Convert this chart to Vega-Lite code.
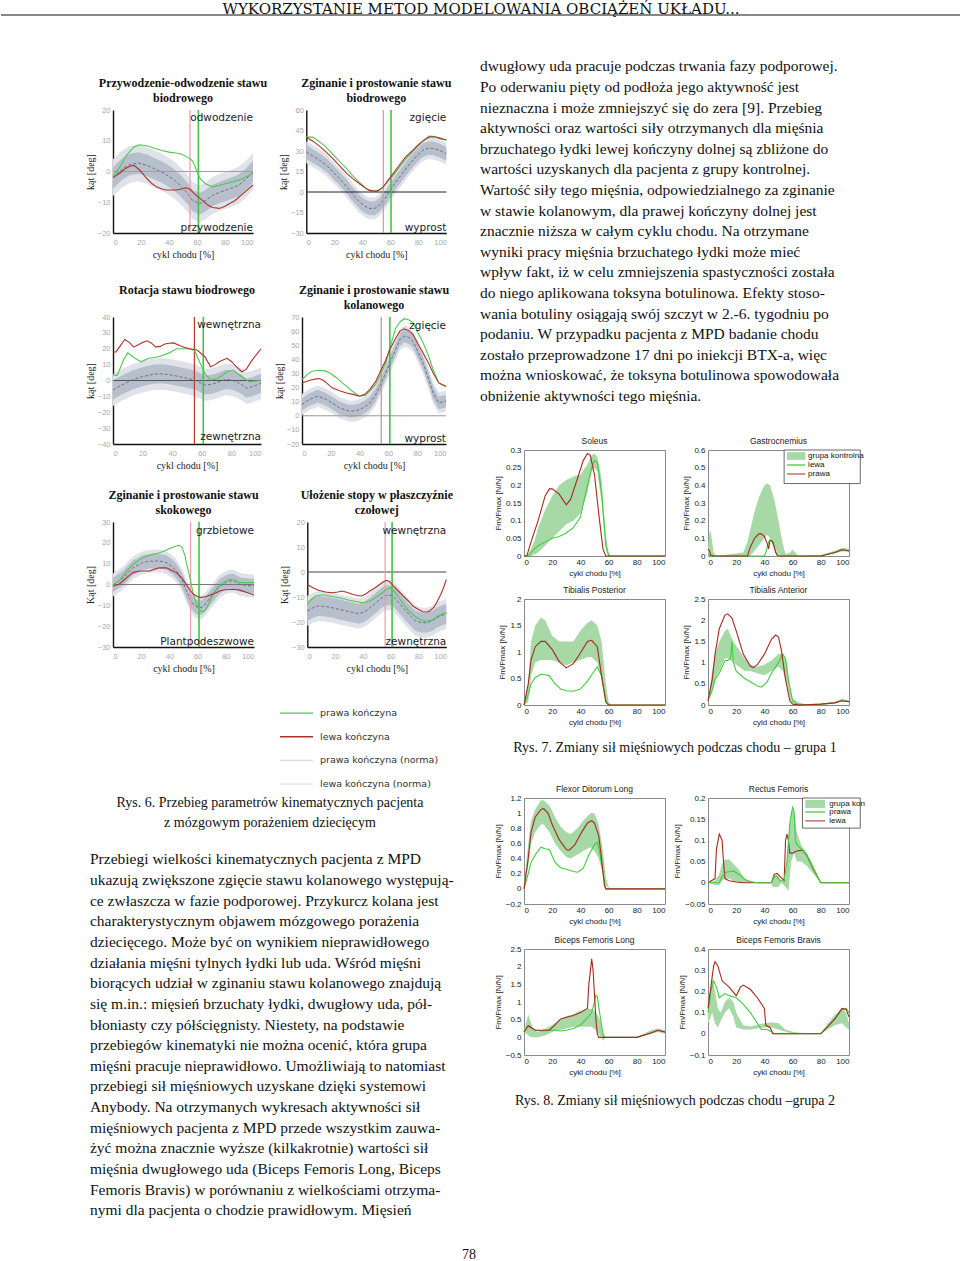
{
"$schema": "https://vega.github.io/schema/vega-lite/v6.json",
"padding": {"top": 1, "left": 0, "right": 0, "bottom": 0},
"background": "white",
"spacing": 0,
"config": {
  "view": {"stroke": null},
  "font": "Liberation Serif",
  "title": {"font": "Liberation Serif", "fontSize": 12, "fontWeight": "bold", "color": "#111", "lineHeight": 15, "offset": 1, "anchor": "middle"},
  "axis": {"grid": false, "ticks": false, "labelOverlap": false, "tickCount": 20, "labelFont": "Liberation Sans", "labelFontSize": 7.5, "labelColor": "#a8a8a8", "domainColor": "#111", "domainWidth": 1.4, "titleFont": "Liberation Serif", "titleFontSize": 10, "titleFontWeight": "normal", "titleColor": "#222", "labelPadding": 3, "titlePadding": 2},
  "axisX": {"labelPadding": 5, "titlePadding": 4}
},
"datasets": {
  "k1n": [{"x":0,"m":-2,"lo":-5.5,"hi":1.5,"lo2":-8,"hi2":4},{"x":7,"m":1,"lo":-2.5,"hi":4.5,"lo2":-5,"hi2":7},{"x":12,"m":2.3,"lo":-1.2,"hi":5.8,"lo2":-3.7,"hi2":8.3},{"x":18,"m":2.8,"lo":-0.7,"hi":6.3,"lo2":-3.2,"hi2":8.8},{"x":24,"m":2,"lo":-1.5,"hi":5.5,"lo2":-4,"hi2":8},{"x":29,"m":1,"lo":-2.5,"hi":4.5,"lo2":-5,"hi2":7},{"x":34,"m":0,"lo":-3.5,"hi":3.5,"lo2":-6,"hi2":6},{"x":38,"m":-1,"lo":-4.5,"hi":2.5,"lo2":-7,"hi2":5},{"x":43,"m":-2.5,"lo":-6,"hi":1,"lo2":-8.5,"hi2":3.5},{"x":48,"m":-4.5,"lo":-8,"hi":-1,"lo2":-10.5,"hi2":1.5},{"x":53,"m":-7,"lo":-10.5,"hi":-3.5,"lo2":-13,"hi2":-1},{"x":57,"m":-9.5,"lo":-13,"hi":-6,"lo2":-15.5,"hi2":-3.5},{"x":62,"m":-10.5,"lo":-14,"hi":-7,"lo2":-16.5,"hi2":-4.5},{"x":66,"m":-9.5,"lo":-13,"hi":-6,"lo2":-15.5,"hi2":-3.5},{"x":71,"m":-7.8,"lo":-11.3,"hi":-4.3,"lo2":-13.8,"hi2":-1.8},{"x":76,"m":-6.8,"lo":-10.3,"hi":-3.3,"lo2":-12.8,"hi2":-0.8},{"x":81,"m":-6,"lo":-9.5,"hi":-2.5,"lo2":-12,"hi2":0},{"x":86,"m":-5.2,"lo":-8.7,"hi":-1.7,"lo2":-11.2,"hi2":0.8},{"x":90,"m":-4.4,"lo":-7.9,"hi":-0.9,"lo2":-10.4,"hi2":1.6},{"x":95,"m":-2.5,"lo":-6,"hi":1,"lo2":-8.5,"hi2":3.5},{"x":100,"m":0,"lo":-3.5,"hi":3.5,"lo2":-6,"hi2":6}],
  "k1g": [{"x":0,"y":-1.7},{"x":5,"y":1.5},{"x":10,"y":5.5},{"x":15,"y":8},{"x":19,"y":8.7},{"x":25,"y":8.3},{"x":30,"y":7.5},{"x":35,"y":6.8},{"x":40,"y":6.3},{"x":45,"y":6},{"x":48,"y":5.8},{"x":52,"y":5},{"x":55,"y":4.2},{"x":57,"y":3.3},{"x":60,"y":0},{"x":62,"y":-2.2},{"x":66,"y":-4},{"x":71,"y":-5},{"x":76,"y":-4.5},{"x":81,"y":-3.9},{"x":86,"y":-3.3},{"x":90,"y":-2.8},{"x":95,"y":-1.8},{"x":100,"y":-0.5}],
  "k1r": [{"x":0,"y":-2},{"x":5,"y":-0.5},{"x":9,"y":1},{"x":12,"y":1.7},{"x":15,"y":2},{"x":19,"y":0.5},{"x":24,"y":-2.2},{"x":28,"y":-4},{"x":31,"y":-5},{"x":35,"y":-5.7},{"x":38,"y":-6},{"x":45,"y":-6},{"x":50,"y":-5.6},{"x":52,"y":-5.3},{"x":55,"y":-5.8},{"x":57,"y":-6.7},{"x":60,"y":-8},{"x":64,"y":-9.4},{"x":68,"y":-11},{"x":71,"y":-11.7},{"x":76,"y":-12},{"x":80,"y":-11.3},{"x":83,"y":-10.5},{"x":87,"y":-9.5},{"x":90,"y":-8.3},{"x":95,"y":-6.4},{"x":100,"y":-4.4}],
  "k2n": [{"x":0,"m":29.3,"lo":24.3,"hi":34.3,"lo2":21.3,"hi2":37.3},{"x":5,"m":26,"lo":21,"hi":31,"lo2":18,"hi2":34},{"x":10,"m":23,"lo":18,"hi":28,"lo2":15,"hi2":31},{"x":15,"m":19,"lo":14,"hi":24,"lo2":11,"hi2":27},{"x":19,"m":14.7,"lo":9.7,"hi":19.7,"lo2":6.7,"hi2":22.7},{"x":24,"m":9.5,"lo":4.5,"hi":14.5,"lo2":1.5,"hi2":17.5},{"x":29,"m":3.7,"lo":-1.3,"hi":8.7,"lo2":-4.3,"hi2":11.7},{"x":33,"m":-1.5,"lo":-6.5,"hi":3.5,"lo2":-9.5,"hi2":6.5},{"x":38,"m":-7.3,"lo":-12.3,"hi":-2.3,"lo2":-15.3,"hi2":0.7},{"x":42,"m":-10.5,"lo":-15.5,"hi":-5.5,"lo2":-18.5,"hi2":-2.5},{"x":45,"m":-12,"lo":-17,"hi":-7,"lo2":-20,"hi2":-4},{"x":49,"m":-12,"lo":-17,"hi":-7,"lo2":-20,"hi2":-4},{"x":52,"m":-9.8,"lo":-14.8,"hi":-4.8,"lo2":-17.8,"hi2":-1.8},{"x":55,"m":-6,"lo":-11,"hi":-1,"lo2":-14,"hi2":2},{"x":57,"m":-3.7,"lo":-8.7,"hi":1.3,"lo2":-11.7,"hi2":4.3},{"x":60,"m":1.5,"lo":-3.5,"hi":6.5,"lo2":-6.5,"hi2":9.5},{"x":64,"m":7.3,"lo":2.3,"hi":12.3,"lo2":-0.7,"hi2":15.3},{"x":69,"m":14,"lo":9,"hi":19,"lo2":6,"hi2":22},{"x":74,"m":20.8,"lo":15.8,"hi":25.8,"lo2":12.8,"hi2":28.8},{"x":79,"m":26.5,"lo":21.5,"hi":31.5,"lo2":18.5,"hi2":34.5},{"x":83,"m":30.5,"lo":25.5,"hi":35.5,"lo2":22.5,"hi2":38.5},{"x":87,"m":32,"lo":27,"hi":37,"lo2":24,"hi2":40},{"x":90,"m":32,"lo":27,"hi":37,"lo2":24,"hi2":40},{"x":95,"m":30.5,"lo":25.5,"hi":35.5,"lo2":22.5,"hi2":38.5},{"x":100,"m":28,"lo":23,"hi":33,"lo2":20,"hi2":36}],
  "k2g": [{"x":0,"y":40.3},{"x":5,"y":40},{"x":9,"y":37},{"x":14,"y":33},{"x":19,"y":27.5},{"x":24,"y":22},{"x":29,"y":17},{"x":33,"y":12},{"x":38,"y":7},{"x":43,"y":2.4},{"x":48,"y":0.5},{"x":52,"y":1.5},{"x":55,"y":3.7},{"x":58,"y":7.5},{"x":62,"y":12},{"x":66,"y":17.5},{"x":71,"y":24},{"x":76,"y":29.5},{"x":81,"y":35},{"x":85,"y":39},{"x":88,"y":41},{"x":92,"y":40.5},{"x":95,"y":39},{"x":100,"y":38}],
  "k2r": [{"x":0,"y":40},{"x":5,"y":37},{"x":10,"y":33},{"x":15,"y":28.5},{"x":19,"y":24.5},{"x":24,"y":19},{"x":29,"y":13.5},{"x":33,"y":10},{"x":38,"y":6},{"x":42,"y":3},{"x":45,"y":1.2},{"x":50,"y":0.5},{"x":53,"y":2},{"x":55,"y":3.7},{"x":58,"y":8},{"x":62,"y":13.5},{"x":66,"y":19},{"x":71,"y":25.7},{"x":76,"y":30.5},{"x":81,"y":35.4},{"x":85,"y":38.5},{"x":88,"y":40.3},{"x":92,"y":40.2},{"x":95,"y":39.6},{"x":100,"y":38}],
  "k3n": [{"x":0,"m":-6,"lo":-12,"hi":0,"lo2":-16,"hi2":4},{"x":6,"m":-2.8,"lo":-8.8,"hi":3.2,"lo2":-12.8,"hi2":7.2},{"x":13,"m":0.3,"lo":-5.7,"hi":6.3,"lo2":-9.7,"hi2":10.3},{"x":20,"m":2.4,"lo":-3.6,"hi":8.4,"lo2":-7.6,"hi2":12.4},{"x":27,"m":3.9,"lo":-2.1,"hi":9.9,"lo2":-6.1,"hi2":13.9},{"x":32,"m":4.2,"lo":-1.8,"hi":10.2,"lo2":-5.8,"hi2":14.2},{"x":36,"m":3.9,"lo":-2.1,"hi":9.9,"lo2":-6.1,"hi2":13.9},{"x":41,"m":3.2,"lo":-2.8,"hi":9.2,"lo2":-6.8,"hi2":13.2},{"x":45,"m":2.4,"lo":-3.6,"hi":8.4,"lo2":-7.6,"hi2":12.4},{"x":50,"m":1.4,"lo":-4.6,"hi":7.4,"lo2":-8.6,"hi2":11.4},{"x":55,"m":0.3,"lo":-5.7,"hi":6.3,"lo2":-9.7,"hi2":10.3},{"x":58,"m":-1,"lo":-7,"hi":5,"lo2":-11,"hi2":9},{"x":62,"m":-2.8,"lo":-8.8,"hi":3.2,"lo2":-12.8,"hi2":7.2},{"x":66,"m":-2.5,"lo":-8.5,"hi":3.5,"lo2":-12.5,"hi2":7.5},{"x":69,"m":-1.7,"lo":-7.7,"hi":4.3,"lo2":-11.7,"hi2":8.3},{"x":73,"m":-0.3,"lo":-6.3,"hi":5.7,"lo2":-10.3,"hi2":9.7},{"x":76,"m":0.7,"lo":-5.3,"hi":6.7,"lo2":-9.3,"hi2":10.7},{"x":80,"m":0.3,"lo":-5.7,"hi":6.3,"lo2":-9.7,"hi2":10.3},{"x":83,"m":-0.7,"lo":-6.7,"hi":5.3,"lo2":-10.7,"hi2":9.3},{"x":87,"m":-2.5,"lo":-8.5,"hi":3.5,"lo2":-12.5,"hi2":7.5},{"x":90,"m":-4.9,"lo":-10.9,"hi":1.1,"lo2":-14.9,"hi2":5.1},{"x":94,"m":-3.9,"lo":-9.9,"hi":2.1,"lo2":-13.9,"hi2":6.1},{"x":100,"m":-1.8,"lo":-7.8,"hi":4.2,"lo2":-11.8,"hi2":8.2}],
  "k3g": [{"x":0,"y":3.4},{"x":3,"y":3.4},{"x":7,"y":12.8},{"x":10,"y":17.4},{"x":14,"y":14.5},{"x":19,"y":11.8},{"x":24,"y":14},{"x":31,"y":15},{"x":38,"y":17.4},{"x":43,"y":20},{"x":50,"y":20},{"x":55,"y":19},{"x":58,"y":12.8},{"x":62,"y":4.5},{"x":66,"y":0.3},{"x":71,"y":1.4},{"x":77,"y":5.5},{"x":81,"y":6.6},{"x":87,"y":2.4},{"x":92,"y":-0.7},{"x":100,"y":0}],
  "k3r": [{"x":0,"y":18},{"x":2,"y":18},{"x":5,"y":22},{"x":8,"y":25.8},{"x":11,"y":24},{"x":14,"y":21},{"x":17,"y":22.5},{"x":20,"y":24},{"x":23,"y":25},{"x":26,"y":23.5},{"x":29,"y":21},{"x":32,"y":21.5},{"x":35,"y":23},{"x":38,"y":23.5},{"x":41,"y":23.7},{"x":45,"y":22},{"x":48,"y":21},{"x":52,"y":20},{"x":57,"y":19},{"x":62,"y":15},{"x":66,"y":8.7},{"x":69,"y":10},{"x":72,"y":12},{"x":77,"y":14},{"x":80,"y":12},{"x":83,"y":9},{"x":87,"y":5.5},{"x":90,"y":7},{"x":94,"y":12.8},{"x":97,"y":16.5},{"x":100,"y":20}],
  "k4n": [{"x":0,"m":8,"lo":3.5,"hi":12.5,"lo2":0.5,"hi2":15.5},{"x":5,"m":11.5,"lo":7,"hi":16,"lo2":4,"hi2":19},{"x":11,"m":13.9,"lo":9.4,"hi":18.4,"lo2":6.4,"hi2":21.4},{"x":17,"m":11.5,"lo":7,"hi":16,"lo2":4,"hi2":19},{"x":22,"m":8.5,"lo":4,"hi":13,"lo2":1,"hi2":16},{"x":26,"m":5.6,"lo":1.1,"hi":10.1,"lo2":-1.9,"hi2":13.1},{"x":33,"m":3.2,"lo":-1.3,"hi":7.7,"lo2":-4.3,"hi2":10.7},{"x":37,"m":3.5,"lo":-1,"hi":8,"lo2":-4,"hi2":11},{"x":40,"m":4.4,"lo":-0.1,"hi":8.9,"lo2":-3.1,"hi2":11.9},{"x":44,"m":6.5,"lo":2,"hi":11,"lo2":-1,"hi2":14},{"x":47,"m":9,"lo":4.5,"hi":13.5,"lo2":1.5,"hi2":16.5},{"x":51,"m":14.5,"lo":10,"hi":19,"lo2":7,"hi2":22},{"x":54,"m":21,"lo":16.5,"hi":25.5,"lo2":13.5,"hi2":28.5},{"x":58,"m":30,"lo":25.5,"hi":34.5,"lo2":22.5,"hi2":37.5},{"x":61,"m":37.5,"lo":33,"hi":42,"lo2":30,"hi2":45},{"x":65,"m":47,"lo":42.5,"hi":51.5,"lo2":39.5,"hi2":54.5},{"x":68,"m":54,"lo":49.5,"hi":58.5,"lo2":46.5,"hi2":61.5},{"x":71,"m":56.5,"lo":52,"hi":61,"lo2":49,"hi2":64},{"x":74,"m":55.5,"lo":51,"hi":60,"lo2":48,"hi2":63},{"x":77,"m":52.8,"lo":48.3,"hi":57.3,"lo2":45.3,"hi2":60.3},{"x":80,"m":46.5,"lo":42,"hi":51,"lo2":39,"hi2":54},{"x":84,"m":37.5,"lo":33,"hi":42,"lo2":30,"hi2":45},{"x":88,"m":26,"lo":21.5,"hi":30.5,"lo2":18.5,"hi2":33.5},{"x":91,"m":16.2,"lo":11.7,"hi":20.7,"lo2":8.7,"hi2":23.7},{"x":95,"m":9.1,"lo":4.6,"hi":13.6,"lo2":1.6,"hi2":16.6},{"x":100,"m":10.3,"lo":5.8,"hi":14.8,"lo2":2.8,"hi2":17.8}],
  "k4g": [{"x":0,"y":25.7},{"x":4,"y":29.5},{"x":7,"y":31.6},{"x":12,"y":32.3},{"x":16,"y":31.8},{"x":19,"y":30.5},{"x":24,"y":27},{"x":28,"y":23.3},{"x":32,"y":20},{"x":35,"y":17.4},{"x":40,"y":13.9},{"x":44,"y":14.5},{"x":47,"y":17.4},{"x":51,"y":22},{"x":54,"y":28},{"x":58,"y":37},{"x":61,"y":48},{"x":63,"y":55},{"x":65,"y":62},{"x":68,"y":66.5},{"x":71,"y":68.8},{"x":74,"y":68},{"x":77,"y":66},{"x":80,"y":60},{"x":84,"y":52},{"x":88,"y":42},{"x":91,"y":32.8},{"x":95,"y":23.3},{"x":100,"y":20.5}],
  "k4r": [{"x":0,"y":23.3},{"x":5,"y":25},{"x":9,"y":26},{"x":12,"y":26.4},{"x":15,"y":25},{"x":17,"y":23.3},{"x":21,"y":19.8},{"x":26,"y":17.8},{"x":31,"y":16.2},{"x":36,"y":15},{"x":40,"y":13.9},{"x":44,"y":15.5},{"x":47,"y":18.6},{"x":51,"y":24},{"x":54,"y":30.5},{"x":58,"y":39},{"x":61,"y":47},{"x":65,"y":55},{"x":68,"y":60},{"x":71,"y":61.6},{"x":74,"y":60.5},{"x":77,"y":57.7},{"x":80,"y":52},{"x":84,"y":44.7},{"x":88,"y":37},{"x":91,"y":30.5},{"x":95,"y":23.3},{"x":100,"y":21}],
  "k5n": [{"x":0,"m":-0.2,"lo":-3.7,"hi":3.3,"lo2":-5.7,"hi2":5.3},{"x":7,"m":3,"lo":-0.5,"hi":6.5,"lo2":-2.5,"hi2":8.5},{"x":14,"m":8,"lo":4.5,"hi":11.5,"lo2":2.5,"hi2":13.5},{"x":21,"m":10.5,"lo":7,"hi":14,"lo2":5,"hi2":16},{"x":26,"m":11.2,"lo":7.7,"hi":14.7,"lo2":5.7,"hi2":16.7},{"x":31,"m":11.3,"lo":7.8,"hi":14.8,"lo2":5.8,"hi2":16.8},{"x":35,"m":11,"lo":7.5,"hi":14.5,"lo2":5.5,"hi2":16.5},{"x":38,"m":10.5,"lo":7,"hi":14,"lo2":5,"hi2":16},{"x":42,"m":8.5,"lo":5,"hi":12,"lo2":3,"hi2":14},{"x":45,"m":6.5,"lo":3,"hi":10,"lo2":1,"hi2":12},{"x":49,"m":2,"lo":-1.5,"hi":5.5,"lo2":-3.5,"hi2":7.5},{"x":52,"m":-3,"lo":-6.5,"hi":0.5,"lo2":-8.5,"hi2":2.5},{"x":55,"m":-7.5,"lo":-11,"hi":-4,"lo2":-13,"hi2":-2},{"x":58,"m":-10.3,"lo":-13.8,"hi":-6.8,"lo2":-15.8,"hi2":-4.8},{"x":61,"m":-11.2,"lo":-14.7,"hi":-7.7,"lo2":-16.7,"hi2":-5.7},{"x":63,"m":-11,"lo":-14.5,"hi":-7.5,"lo2":-16.5,"hi2":-5.5},{"x":66,"m":-9,"lo":-12.5,"hi":-5.5,"lo2":-14.5,"hi2":-3.5},{"x":69,"m":-6.3,"lo":-9.8,"hi":-2.8,"lo2":-11.8,"hi2":-0.8},{"x":73,"m":-3,"lo":-6.5,"hi":0.5,"lo2":-8.5,"hi2":2.5},{"x":76,"m":-0.7,"lo":-4.2,"hi":2.8,"lo2":-6.2,"hi2":4.8},{"x":80,"m":1,"lo":-2.5,"hi":4.5,"lo2":-4.5,"hi2":6.5},{"x":83,"m":1.7,"lo":-1.8,"hi":5.2,"lo2":-3.8,"hi2":7.2},{"x":86,"m":1.5,"lo":-2,"hi":5,"lo2":-4,"hi2":7},{"x":90,"m":0,"lo":-3.5,"hi":3.5,"lo2":-5.5,"hi2":5.5},{"x":95,"m":-0.5,"lo":-4,"hi":3,"lo2":-6,"hi2":5},{"x":100,"m":-0.7,"lo":-4.2,"hi":2.8,"lo2":-6.2,"hi2":4.8}],
  "k5g": [{"x":0,"y":-0.2},{"x":4,"y":1.5},{"x":7,"y":4},{"x":10,"y":6.5},{"x":14,"y":9.7},{"x":18,"y":11.5},{"x":21,"y":12.9},{"x":25,"y":13.8},{"x":28,"y":14.5},{"x":32,"y":15},{"x":36,"y":16},{"x":40,"y":17.3},{"x":45,"y":18.5},{"x":47,"y":18.8},{"x":49,"y":17.7},{"x":51,"y":14},{"x":52,"y":10.5},{"x":54,"y":5},{"x":57,"y":-4.7},{"x":59,"y":-9},{"x":62,"y":-12.7},{"x":64,"y":-13},{"x":66,"y":-12},{"x":68,"y":-9},{"x":71,"y":-4.7},{"x":74,"y":-1.5},{"x":78,"y":0.9},{"x":83,"y":2.5},{"x":87,"y":2},{"x":90,"y":0.9},{"x":95,"y":0.9},{"x":100,"y":0.9}],
  "k5r": [{"x":0,"y":-0.7},{"x":4,"y":0},{"x":7,"y":1.7},{"x":11,"y":4},{"x":14,"y":5.7},{"x":19,"y":6.5},{"x":22,"y":6.5},{"x":26,"y":6.5},{"x":30,"y":7.5},{"x":33,"y":8},{"x":38,"y":8},{"x":41,"y":7},{"x":45,"y":5.7},{"x":49,"y":3},{"x":52,"y":0},{"x":55,"y":-3},{"x":57,"y":-4.7},{"x":60,"y":-5.8},{"x":62,"y":-6.3},{"x":66,"y":-5.8},{"x":69,"y":-5},{"x":73,"y":-4},{"x":76,"y":-3},{"x":80,"y":-2.5},{"x":85,"y":-2.3},{"x":90,"y":-2.7},{"x":95,"y":-3.8},{"x":100,"y":-5}],
  "k6n": [{"x":0,"m":-15.6,"lo":-19.6,"hi":-11.6,"lo2":-21.6,"hi2":-9.6},{"x":4,"m":-14.3,"lo":-18.3,"hi":-10.3,"lo2":-20.3,"hi2":-8.3},{"x":8,"m":-13.6,"lo":-17.6,"hi":-9.6,"lo2":-19.6,"hi2":-7.6},{"x":13,"m":-13.8,"lo":-17.8,"hi":-9.8,"lo2":-19.8,"hi2":-7.8},{"x":18,"m":-14.3,"lo":-18.3,"hi":-10.3,"lo2":-20.3,"hi2":-8.3},{"x":23,"m":-15,"lo":-19,"hi":-11,"lo2":-21,"hi2":-9},{"x":28,"m":-15.6,"lo":-19.6,"hi":-11.6,"lo2":-21.6,"hi2":-9.6},{"x":33,"m":-16.2,"lo":-20.2,"hi":-12.2,"lo2":-22.2,"hi2":-10.2},{"x":37,"m":-16.7,"lo":-20.7,"hi":-12.7,"lo2":-22.7,"hi2":-10.7},{"x":41,"m":-16,"lo":-20,"hi":-12,"lo2":-22,"hi2":-10},{"x":45,"m":-14.3,"lo":-18.3,"hi":-10.3,"lo2":-20.3,"hi2":-8.3},{"x":49,"m":-12.5,"lo":-16.5,"hi":-8.5,"lo2":-18.5,"hi2":-6.5},{"x":52,"m":-11,"lo":-15,"hi":-7,"lo2":-17,"hi2":-5},{"x":55,"m":-9.8,"lo":-13.8,"hi":-5.8,"lo2":-15.8,"hi2":-3.8},{"x":58,"m":-9.2,"lo":-13.2,"hi":-5.2,"lo2":-15.2,"hi2":-3.2},{"x":61,"m":-9.5,"lo":-13.5,"hi":-5.5,"lo2":-15.5,"hi2":-3.5},{"x":64,"m":-11,"lo":-15,"hi":-7,"lo2":-17,"hi2":-5},{"x":67,"m":-13,"lo":-17,"hi":-9,"lo2":-19,"hi2":-7},{"x":71,"m":-15.6,"lo":-19.6,"hi":-11.6,"lo2":-21.6,"hi2":-9.6},{"x":75,"m":-18,"lo":-22,"hi":-14,"lo2":-24,"hi2":-12},{"x":78,"m":-19.6,"lo":-23.6,"hi":-15.6,"lo2":-25.6,"hi2":-13.6},{"x":82,"m":-20.2,"lo":-24.2,"hi":-16.2,"lo2":-26.2,"hi2":-14.2},{"x":86,"m":-20.3,"lo":-24.3,"hi":-16.3,"lo2":-26.3,"hi2":-14.3},{"x":90,"m":-19.5,"lo":-23.5,"hi":-15.5,"lo2":-25.5,"hi2":-13.5},{"x":93,"m":-18.3,"lo":-22.3,"hi":-14.3,"lo2":-24.3,"hi2":-12.3},{"x":97,"m":-17.3,"lo":-21.3,"hi":-13.3,"lo2":-23.3,"hi2":-11.3},{"x":100,"m":-16.7,"lo":-20.7,"hi":-12.7,"lo2":-22.7,"hi2":-10.7}],
  "k6g": [{"x":0,"y":-13},{"x":3,"y":-11},{"x":6,"y":-9.6},{"x":10,"y":-9.2},{"x":13,"y":-9.2},{"x":18,"y":-9.8},{"x":23,"y":-10.3},{"x":28,"y":-11},{"x":33,"y":-11.6},{"x":37,"y":-12},{"x":40,"y":-12.3},{"x":44,"y":-11.8},{"x":47,"y":-11},{"x":51,"y":-9.5},{"x":54,"y":-8.3},{"x":57,"y":-7},{"x":60,"y":-6.3},{"x":63,"y":-8},{"x":66,"y":-10.3},{"x":70,"y":-13.5},{"x":73,"y":-15.6},{"x":77,"y":-17.5},{"x":81,"y":-19},{"x":85,"y":-19.6},{"x":88,"y":-19.6},{"x":91,"y":-18.8},{"x":94,"y":-17.6},{"x":97,"y":-16.8},{"x":100,"y":-16.3}],
  "k6r": [{"x":0,"y":-5},{"x":4,"y":-6.3},{"x":8,"y":-7.3},{"x":13,"y":-8},{"x":18,"y":-8.3},{"x":22,"y":-8},{"x":25,"y":-7.6},{"x":29,"y":-8.2},{"x":33,"y":-9},{"x":36,"y":-9.4},{"x":39,"y":-9.6},{"x":42,"y":-8.8},{"x":45,"y":-7.6},{"x":49,"y":-6.2},{"x":52,"y":-5},{"x":55,"y":-3.8},{"x":57,"y":-3.3},{"x":59,"y":-3.8},{"x":61,"y":-5},{"x":65,"y":-7.3},{"x":69,"y":-9.6},{"x":73,"y":-11.8},{"x":76,"y":-13.6},{"x":80,"y":-15},{"x":83,"y":-15.9},{"x":86,"y":-16},{"x":88,"y":-15.6},{"x":91,"y":-14.2},{"x":93,"y":-12.3},{"x":96,"y":-9},{"x":98,"y":-6.3},{"x":100,"y":-3}],
  "solb": [{"x":0,"lo":0,"hi":0},{"x":3,"lo":0,"hi":0.005},{"x":5,"lo":0,"hi":0.02},{"x":8,"lo":0.005,"hi":0.05},{"x":10,"lo":0.01,"hi":0.08},{"x":15,"lo":0.03,"hi":0.13},{"x":20,"lo":0.05,"hi":0.17},{"x":25,"lo":0.07,"hi":0.2},{"x":30,"lo":0.09,"hi":0.215},{"x":35,"lo":0.1,"hi":0.225},{"x":40,"lo":0.12,"hi":0.23},{"x":45,"lo":0.18,"hi":0.26},{"x":48,"lo":0.24,"hi":0.285},{"x":50,"lo":0.25,"hi":0.29},{"x":52,"lo":0.24,"hi":0.28},{"x":55,"lo":0.15,"hi":0.22},{"x":58,"lo":0.02,"hi":0.06},{"x":60,"lo":0,"hi":0.01},{"x":62,"lo":0,"hi":0},{"x":100,"lo":0,"hi":0}],
  "solg": [{"x":0,"y":0},{"x":3,"y":0},{"x":5,"y":0.01},{"x":10,"y":0.03},{"x":15,"y":0.04},{"x":20,"y":0.05},{"x":25,"y":0.055},{"x":30,"y":0.065},{"x":35,"y":0.08},{"x":40,"y":0.11},{"x":45,"y":0.2},{"x":48,"y":0.25},{"x":50,"y":0.27},{"x":52,"y":0.265},{"x":55,"y":0.18},{"x":58,"y":0.03},{"x":60,"y":0},{"x":100,"y":0}],
  "solr": [{"x":0,"y":0},{"x":2,"y":0},{"x":5,"y":0.04},{"x":10,"y":0.1},{"x":15,"y":0.17},{"x":18,"y":0.19},{"x":20,"y":0.19},{"x":25,"y":0.175},{"x":30,"y":0.145},{"x":33,"y":0.16},{"x":38,"y":0.22},{"x":42,"y":0.27},{"x":45,"y":0.29},{"x":47,"y":0.285},{"x":50,"y":0.23},{"x":53,"y":0.12},{"x":56,"y":0.02},{"x":58,"y":0},{"x":100,"y":0}],
  "gasb": [{"x":0,"lo":0,"hi":0.05},{"x":1,"lo":0,"hi":0.13},{"x":2,"lo":0,"hi":0.14},{"x":4,"lo":0,"hi":0.02},{"x":6,"lo":0,"hi":0},{"x":25,"lo":0,"hi":0.02},{"x":28,"lo":0,"hi":0.08},{"x":30,"lo":0,"hi":0.15},{"x":33,"lo":0.03,"hi":0.25},{"x":36,"lo":0.06,"hi":0.33},{"x":40,"lo":0.1,"hi":0.4},{"x":42,"lo":0.12,"hi":0.41},{"x":44,"lo":0.1,"hi":0.4},{"x":47,"lo":0.05,"hi":0.32},{"x":50,"lo":0.01,"hi":0.2},{"x":53,"lo":0,"hi":0.07},{"x":55,"lo":0,"hi":0.01},{"x":58,"lo":0,"hi":0.02},{"x":60,"lo":0,"hi":0.035},{"x":62,"lo":0,"hi":0.02},{"x":64,"lo":0,"hi":0},{"x":80,"lo":0,"hi":0.005},{"x":90,"lo":0.015,"hi":0.03},{"x":95,"lo":0.025,"hi":0.045},{"x":98,"lo":0.025,"hi":0.045},{"x":100,"lo":0.02,"hi":0.035}],
  "gasg": [{"x":0,"y":0.01},{"x":2,"y":0},{"x":40,"y":0},{"x":41,"y":0.02},{"x":43,"y":0.08},{"x":45,"y":0.09},{"x":47,"y":0.05},{"x":49,"y":0},{"x":80,"y":0},{"x":90,"y":0.02},{"x":95,"y":0.035},{"x":100,"y":0.03}],
  "gasr": [{"x":0,"y":0.04},{"x":1,"y":0.03},{"x":2,"y":0.005},{"x":4,"y":0},{"x":28,"y":0},{"x":30,"y":0.05},{"x":33,"y":0.1},{"x":36,"y":0.125},{"x":38,"y":0.125},{"x":40,"y":0.11},{"x":42,"y":0.07},{"x":43,"y":0.04},{"x":44,"y":0.09},{"x":46,"y":0.08},{"x":48,"y":0.02},{"x":50,"y":0},{"x":80,"y":0},{"x":90,"y":0.02},{"x":95,"y":0.035},{"x":100,"y":0.03}],
  "tpb": [{"x":0,"lo":0,"hi":0.05},{"x":3,"lo":0.05,"hi":0.4},{"x":5,"lo":0.55,"hi":1.2},{"x":8,"lo":0.8,"hi":1.5},{"x":12,"lo":0.85,"hi":1.65},{"x":15,"lo":0.85,"hi":1.6},{"x":20,"lo":0.85,"hi":1.3},{"x":25,"lo":0.8,"hi":1.2},{"x":30,"lo":0.75,"hi":1.2},{"x":35,"lo":0.8,"hi":1.2},{"x":40,"lo":0.85,"hi":1.4},{"x":45,"lo":0.9,"hi":1.55},{"x":48,"lo":0.9,"hi":1.6},{"x":52,"lo":0.8,"hi":1.5},{"x":55,"lo":0.5,"hi":1.2},{"x":58,"lo":0.1,"hi":0.4},{"x":60,"lo":0,"hi":0.05},{"x":62,"lo":0,"hi":0},{"x":100,"lo":0,"hi":0}],
  "tpg": [{"x":0,"y":0},{"x":3,"y":0.2},{"x":5,"y":0.4},{"x":8,"y":0.52},{"x":12,"y":0.58},{"x":15,"y":0.57},{"x":18,"y":0.55},{"x":22,"y":0.4},{"x":26,"y":0.3},{"x":30,"y":0.27},{"x":35,"y":0.26},{"x":40,"y":0.3},{"x":45,"y":0.45},{"x":50,"y":0.65},{"x":52,"y":0.72},{"x":55,"y":0.55},{"x":58,"y":0.1},{"x":60,"y":0},{"x":100,"y":0}],
  "tpr": [{"x":0,"y":0},{"x":3,"y":0.4},{"x":5,"y":0.85},{"x":8,"y":1.1},{"x":12,"y":1.2},{"x":15,"y":1.2},{"x":20,"y":1.05},{"x":25,"y":0.82},{"x":30,"y":0.7},{"x":35,"y":0.78},{"x":40,"y":0.98},{"x":45,"y":1.2},{"x":48,"y":1.22},{"x":52,"y":1.1},{"x":55,"y":0.55},{"x":58,"y":0.05},{"x":60,"y":0},{"x":100,"y":0}],
  "tab": [{"x":0,"lo":0.1,"hi":0.1},{"x":3,"lo":0.3,"hi":0.8},{"x":5,"lo":0.6,"hi":1.2},{"x":8,"lo":0.8,"hi":1.5},{"x":12,"lo":1.1,"hi":1.75},{"x":14,"lo":1.1,"hi":1.8},{"x":18,"lo":1.0,"hi":1.5},{"x":22,"lo":0.9,"hi":1.3},{"x":26,"lo":0.8,"hi":1.1},{"x":30,"lo":0.8,"hi":0.95},{"x":35,"lo":0.75,"hi":0.9},{"x":40,"lo":0.7,"hi":0.95},{"x":45,"lo":0.8,"hi":1.05},{"x":50,"lo":0.9,"hi":1.2},{"x":53,"lo":0.8,"hi":1.2},{"x":56,"lo":0.5,"hi":1.0},{"x":58,"lo":0.15,"hi":0.4},{"x":60,"lo":0.05,"hi":0.15},{"x":65,"lo":0.02,"hi":0.05},{"x":70,"lo":0,"hi":0.02},{"x":80,"lo":0,"hi":0.02},{"x":90,"lo":0.05,"hi":0.08},{"x":95,"lo":0.1,"hi":0.15},{"x":100,"lo":0.08,"hi":0.1}],
  "tag": [{"x":0,"y":0.1},{"x":3,"y":0.35},{"x":5,"y":0.6},{"x":8,"y":0.75},{"x":12,"y":1.05},{"x":14,"y":1.05},{"x":16,"y":1.1},{"x":17,"y":1.5},{"x":18,"y":1.0},{"x":20,"y":0.8},{"x":25,"y":0.65},{"x":30,"y":0.55},{"x":35,"y":0.45},{"x":38,"y":0.42},{"x":42,"y":0.55},{"x":45,"y":0.75},{"x":50,"y":1.0},{"x":53,"y":1.2},{"x":55,"y":1.1},{"x":57,"y":0.6},{"x":60,"y":0.1},{"x":63,"y":0.02},{"x":70,"y":0},{"x":80,"y":0.02},{"x":90,"y":0.05},{"x":95,"y":0.1},{"x":100,"y":0.08}],
  "tar": [{"x":0,"y":0.1},{"x":3,"y":0.6},{"x":5,"y":1.2},{"x":8,"y":1.8},{"x":12,"y":2.12},{"x":14,"y":2.15},{"x":17,"y":2.05},{"x":20,"y":1.75},{"x":25,"y":1.2},{"x":30,"y":0.92},{"x":32,"y":0.88},{"x":35,"y":0.95},{"x":40,"y":1.2},{"x":45,"y":1.55},{"x":48,"y":1.65},{"x":50,"y":1.6},{"x":52,"y":1.3},{"x":55,"y":0.6},{"x":58,"y":0.1},{"x":60,"y":0.02},{"x":65,"y":0},{"x":80,"y":0.02},{"x":90,"y":0.05},{"x":95,"y":0.1},{"x":100,"y":0.08}],
  "fdb": [{"x":0,"lo":0,"hi":0.05},{"x":3,"lo":0.3,"hi":0.6},{"x":5,"lo":0.6,"hi":0.9},{"x":8,"lo":0.75,"hi":1.05},{"x":12,"lo":0.85,"hi":1.17},{"x":14,"lo":0.85,"hi":1.17},{"x":18,"lo":0.75,"hi":1.1},{"x":22,"lo":0.6,"hi":0.95},{"x":26,"lo":0.5,"hi":0.82},{"x":30,"lo":0.42,"hi":0.75},{"x":33,"lo":0.4,"hi":0.72},{"x":38,"lo":0.45,"hi":0.8},{"x":42,"lo":0.5,"hi":0.9},{"x":47,"lo":0.55,"hi":1.0},{"x":50,"lo":0.5,"hi":1.0},{"x":53,"lo":0.4,"hi":0.85},{"x":56,"lo":0.2,"hi":0.5},{"x":58,"lo":0.05,"hi":0.15},{"x":60,"lo":0,"hi":0.02},{"x":62,"lo":0,"hi":0},{"x":100,"lo":0,"hi":0}],
  "fdg": [{"x":0,"y":0},{"x":3,"y":0.2},{"x":5,"y":0.35},{"x":8,"y":0.45},{"x":12,"y":0.55},{"x":15,"y":0.53},{"x":18,"y":0.52},{"x":22,"y":0.35},{"x":26,"y":0.28},{"x":30,"y":0.26},{"x":35,"y":0.23},{"x":38,"y":0.22},{"x":42,"y":0.27},{"x":46,"y":0.45},{"x":50,"y":0.58},{"x":52,"y":0.62},{"x":54,"y":0.45},{"x":57,"y":0.1},{"x":58,"y":0},{"x":100,"y":0}],
  "fdr": [{"x":0,"y":0},{"x":3,"y":0.4},{"x":5,"y":0.75},{"x":8,"y":0.95},{"x":12,"y":1.05},{"x":14,"y":1.06},{"x":17,"y":1.0},{"x":20,"y":0.85},{"x":25,"y":0.65},{"x":30,"y":0.52},{"x":32,"y":0.51},{"x":36,"y":0.58},{"x":40,"y":0.72},{"x":45,"y":0.87},{"x":48,"y":0.9},{"x":50,"y":0.87},{"x":53,"y":0.7},{"x":55,"y":0.4},{"x":57,"y":0.05},{"x":58,"y":0},{"x":100,"y":0}],
  "rfb": [{"x":0,"lo":0,"hi":0},{"x":5,"lo":-0.005,"hi":0.005},{"x":8,"lo":-0.005,"hi":0.02},{"x":10,"lo":0.005,"hi":0.045},{"x":12,"lo":0.01,"hi":0.055},{"x":15,"lo":0.01,"hi":0.055},{"x":18,"lo":0.005,"hi":0.045},{"x":22,"lo":0,"hi":0.03},{"x":26,"lo":0,"hi":0.01},{"x":30,"lo":0,"hi":0.003},{"x":35,"lo":0,"hi":0},{"x":45,"lo":0,"hi":0},{"x":46,"lo":-0.01,"hi":0.015},{"x":48,"lo":-0.01,"hi":0.02},{"x":50,"lo":-0.01,"hi":0.015},{"x":52,"lo":0,"hi":0.005},{"x":55,"lo":-0.01,"hi":0.01},{"x":57,"lo":-0.02,"hi":0.1},{"x":59,"lo":0.05,"hi":0.17},{"x":61,"lo":0.07,"hi":0.17},{"x":63,"lo":0.05,"hi":0.12},{"x":66,"lo":0.05,"hi":0.09},{"x":70,"lo":0.04,"hi":0.07},{"x":75,"lo":0.02,"hi":0.04},{"x":80,"lo":0,"hi":0},{"x":100,"lo":0,"hi":0}],
  "rfg": [{"x":0,"y":0},{"x":8,"y":0},{"x":10,"y":0.015},{"x":13,"y":0.025},{"x":18,"y":0.028},{"x":22,"y":0.02},{"x":26,"y":0.008},{"x":30,"y":0.003},{"x":35,"y":0},{"x":45,"y":0},{"x":47,"y":0.015},{"x":49,"y":0.015},{"x":51,"y":0.005},{"x":54,"y":0.005},{"x":56,"y":0.05},{"x":58,"y":0.14},{"x":60,"y":0.178},{"x":61,"y":0.17},{"x":62,"y":0.1},{"x":63,"y":0.09},{"x":66,"y":0.08},{"x":70,"y":0.065},{"x":75,"y":0.03},{"x":80,"y":0},{"x":100,"y":0}],
  "rfr": [{"x":0,"y":0},{"x":5,"y":0.01},{"x":6,"y":0.08},{"x":8,"y":0.115},{"x":10,"y":0.1},{"x":11,"y":0.05},{"x":12,"y":0.01},{"x":15,"y":0.005},{"x":20,"y":0.002},{"x":25,"y":0},{"x":45,"y":0},{"x":47,"y":0.02},{"x":49,"y":0.022},{"x":51,"y":0.015},{"x":54,"y":0.005},{"x":55,"y":0.1},{"x":56,"y":0.115},{"x":57,"y":0.1},{"x":58,"y":0.07},{"x":60,"y":0.07},{"x":63,"y":0.075},{"x":67,"y":0.077},{"x":70,"y":0.065},{"x":75,"y":0.03},{"x":80,"y":0},{"x":100,"y":0}],
  "blb": [{"x":0,"lo":0.15,"hi":0.2},{"x":2,"lo":0.1,"hi":0.5},{"x":3,"lo":0.05,"hi":0.65},{"x":5,"lo":0,"hi":0.4},{"x":7,"lo":0,"hi":0.2},{"x":10,"lo":0,"hi":0.15},{"x":15,"lo":0.05,"hi":0.25},{"x":20,"lo":0.15,"hi":0.35},{"x":25,"lo":0.2,"hi":0.5},{"x":30,"lo":0.25,"hi":0.6},{"x":35,"lo":0.3,"hi":0.65},{"x":40,"lo":0.3,"hi":0.75},{"x":45,"lo":0.3,"hi":0.8},{"x":48,"lo":0.3,"hi":0.8},{"x":51,"lo":0.2,"hi":0.7},{"x":54,"lo":0.05,"hi":0.5},{"x":56,"lo":-0.1,"hi":0.1},{"x":58,"lo":0,"hi":0.02},{"x":60,"lo":0,"hi":0},{"x":80,"lo":0,"hi":0},{"x":90,"lo":0.1,"hi":0.2},{"x":95,"lo":0.15,"hi":0.25},{"x":100,"lo":0.1,"hi":0.2}],
  "blg": [{"x":0,"y":0.15},{"x":3,"y":0.32},{"x":5,"y":0.28},{"x":8,"y":0.2},{"x":12,"y":0.18},{"x":18,"y":0.2},{"x":22,"y":0.2},{"x":26,"y":0.18},{"x":30,"y":0.2},{"x":35,"y":0.25},{"x":40,"y":0.35},{"x":45,"y":0.55},{"x":48,"y":0.7},{"x":50,"y":1.0},{"x":51,"y":1.2},{"x":52,"y":1.15},{"x":54,"y":0.6},{"x":56,"y":0.1},{"x":57,"y":0},{"x":80,"y":0},{"x":90,"y":0.12},{"x":95,"y":0.2},{"x":100,"y":0.15}],
  "blr": [{"x":0,"y":0.15},{"x":3,"y":0.33},{"x":5,"y":0.28},{"x":8,"y":0.2},{"x":12,"y":0.2},{"x":18,"y":0.2},{"x":22,"y":0.35},{"x":26,"y":0.52},{"x":30,"y":0.57},{"x":35,"y":0.62},{"x":40,"y":0.7},{"x":45,"y":0.82},{"x":46,"y":1.5},{"x":48,"y":2.22},{"x":49,"y":1.9},{"x":50,"y":1.2},{"x":51,"y":0.5},{"x":52,"y":0.1},{"x":53,"y":0},{"x":80,"y":0},{"x":90,"y":0.12},{"x":95,"y":0.2},{"x":100,"y":0.15}],
  "bbb": [{"x":0,"lo":0.05,"hi":0.13},{"x":2,"lo":0.08,"hi":0.22},{"x":3,"lo":0.1,"hi":0.26},{"x":5,"lo":0.05,"hi":0.2},{"x":7,"lo":0.03,"hi":0.12},{"x":9,"lo":0.06,"hi":0.1},{"x":12,"lo":0.1,"hi":0.15},{"x":15,"lo":0.12,"hi":0.17},{"x":18,"lo":0.08,"hi":0.15},{"x":20,"lo":0.03,"hi":0.1},{"x":25,"lo":0.02,"hi":0.04},{"x":30,"lo":0.02,"hi":0.035},{"x":40,"lo":0.03,"hi":0.05},{"x":45,"lo":0.03,"hi":0.055},{"x":50,"lo":0.02,"hi":0.05},{"x":55,"lo":0.01,"hi":0.02},{"x":60,"lo":0,"hi":0.01},{"x":65,"lo":0,"hi":0.005},{"x":80,"lo":0,"hi":0},{"x":85,"lo":0.02,"hi":0.05},{"x":90,"lo":0.04,"hi":0.09},{"x":95,"lo":0.05,"hi":0.12},{"x":98,"lo":0.03,"hi":0.1},{"x":100,"lo":0.02,"hi":0.05}],
  "bbg": [{"x":0,"y":0.1},{"x":2,"y":0.2},{"x":4,"y":0.25},{"x":6,"y":0.22},{"x":8,"y":0.17},{"x":12,"y":0.19},{"x":15,"y":0.18},{"x":20,"y":0.17},{"x":25,"y":0.14},{"x":30,"y":0.1},{"x":35,"y":0.05},{"x":38,"y":0.02},{"x":42,"y":0.02},{"x":45,"y":0.01},{"x":47,"y":0},{"x":80,"y":0},{"x":90,"y":0.07},{"x":95,"y":0.115},{"x":98,"y":0.12},{"x":100,"y":0.1}],
  "bbr": [{"x":0,"y":0.12},{"x":2,"y":0.22},{"x":4,"y":0.32},{"x":5,"y":0.34},{"x":7,"y":0.32},{"x":10,"y":0.25},{"x":15,"y":0.22},{"x":20,"y":0.18},{"x":23,"y":0.22},{"x":25,"y":0.23},{"x":30,"y":0.21},{"x":35,"y":0.17},{"x":40,"y":0.12},{"x":41,"y":0.04},{"x":44,"y":0.03},{"x":46,"y":0},{"x":80,"y":0},{"x":90,"y":0.07},{"x":95,"y":0.12},{"x":98,"y":0.115},{"x":100,"y":0.08}]
},
"vconcat": [
  {"width": 960, "height": 13, "layer": [
    {"data": {"values": [{"t": "WYKORZYSTANIE METOD MODELOWANIA OBCIĄŻEŃ UKŁADU..."}]}, "mark": {"type": "text", "fontSize": 15, "baseline": "middle", "font": "DejaVu Serif", "color": "#111"}, "encoding": {"text": {"field": "t"}}},
    {"data": {"values": [{}]}, "mark": {"type": "rule", "color": "#111", "strokeWidth": 1.2}, "encoding": {"y": {"datum": 0, "scale": {"domain": [0, 1]}, "axis": null}}}
  ]},
  {"data": {"values": []}, "mark": "point", "width": 1, "height": 38.75},
  {"hconcat": [
    {"data": {"values": []}, "mark": "point", "width": 83.5, "height": 1},
    {"vconcat": [
      {"data": {"values": []}, "mark": "point", "width": 1, "height": 21},
      {"hconcat": [
        {"width": 140, "height": 123, "title": {"text": ["Przywodzenie-odwodzenie stawu", "biodrowego"]}, "layer": [
          {"data": {"name": "k1n"}, "mark": {"type": "area", "color": "#dfe3e9"}, "encoding": {"x": {"field": "x", "type": "quantitative", "scale": {"domain": [0, 100], "nice": false}, "axis": {"values": [0, 20, 40, 60, 80, 100], "tickCount": 20, "title": "cykl chodu [%]", "labelOverlap": false}}, "y": {"field": "lo2", "type": "quantitative", "scale": {"domain": [-20, 20], "nice": false}, "axis": {"values": [-20, -10, 0, 10, 20], "tickCount": 20, "format": "~f", "title": "kąt [deg]", "labelOverlap": false}}, "y2": {"field": "hi2"}}},
          {"data": {"name": "k1n"}, "mark": {"type": "area", "color": "#b7bfcc"}, "encoding": {"x": {"field": "x", "type": "quantitative"}, "y": {"field": "lo", "type": "quantitative"}, "y2": {"field": "hi"}}},
          {"data": {"values": [{}]}, "mark": {"type": "rule", "color": "#a0a0a0"}, "encoding": {"y": {"datum": 0}}},
          {"data": {"name": "k1n"}, "mark": {"type": "line", "color": "#5d6879", "strokeWidth": 0.9, "strokeDash": [3, 2]}, "encoding": {"x": {"field": "x", "type": "quantitative"}, "y": {"field": "m", "type": "quantitative"}}},
          {"data": {"values": [{}]}, "mark": {"type": "rule", "color": "#e2a0a8", "strokeWidth": 1.2}, "encoding": {"x": {"datum": 55}}},
          {"data": {"values": [{}]}, "mark": {"type": "rule", "color": "#45c045", "strokeWidth": 1.6}, "encoding": {"x": {"datum": 61}}},
          {"data": {"name": "k1g"}, "mark": {"type": "line", "color": "#4fc94f", "strokeWidth": 1.1}, "encoding": {"x": {"field": "x", "type": "quantitative"}, "y": {"field": "y", "type": "quantitative"}}},
          {"data": {"name": "k1r"}, "mark": {"type": "line", "color": "#b0302a", "strokeWidth": 1.1}, "encoding": {"x": {"field": "x", "type": "quantitative"}, "y": {"field": "y", "type": "quantitative"}}},
          {"data": {"values": [{}]}, "mark": {"type": "text", "align": "right", "baseline": "middle", "font": "DejaVu Sans", "fontSize": 10.5, "color": "#222"}, "encoding": {"x": {"datum": 100}, "y": {"datum": 17.4}, "text": {"value": "odwodzenie"}}},
          {"data": {"values": [{}]}, "mark": {"type": "text", "align": "right", "baseline": "middle", "font": "DejaVu Sans", "fontSize": 10.5, "color": "#222"}, "encoding": {"x": {"datum": 100}, "y": {"datum": -18.4}, "text": {"value": "przywodzenie"}}}
        ]},
        {"width": 140, "height": 123, "title": {"text": ["Zginanie i prostowanie stawu", "biodrowego"]}, "layer": [
          {"data": {"name": "k2n"}, "mark": {"type": "area", "color": "#dfe3e9"}, "encoding": {"x": {"field": "x", "type": "quantitative", "scale": {"domain": [0, 100], "nice": false}, "axis": {"values": [0, 20, 40, 60, 80, 100], "tickCount": 20, "title": "cykl chodu [%]", "labelOverlap": false}}, "y": {"field": "lo2", "type": "quantitative", "scale": {"domain": [-30, 60], "nice": false}, "axis": {"values": [-30, -15, 0, 15, 30, 45, 60], "tickCount": 20, "format": "~f", "title": "kąt [deg]", "labelOverlap": false}}, "y2": {"field": "hi2"}}},
          {"data": {"name": "k2n"}, "mark": {"type": "area", "color": "#b7bfcc"}, "encoding": {"x": {"field": "x", "type": "quantitative"}, "y": {"field": "lo", "type": "quantitative"}, "y2": {"field": "hi"}}},
          {"data": {"values": [{}]}, "mark": {"type": "rule", "color": "#222"}, "encoding": {"y": {"datum": 0}}},
          {"data": {"name": "k2n"}, "mark": {"type": "line", "color": "#5d6879", "strokeWidth": 0.9, "strokeDash": [3, 2]}, "encoding": {"x": {"field": "x", "type": "quantitative"}, "y": {"field": "m", "type": "quantitative"}}},
          {"data": {"values": [{}]}, "mark": {"type": "rule", "color": "#c99aa0", "strokeWidth": 1.2}, "encoding": {"x": {"datum": 55}}},
          {"data": {"values": [{}]}, "mark": {"type": "rule", "color": "#45c045", "strokeWidth": 1.6}, "encoding": {"x": {"datum": 60.5}}},
          {"data": {"name": "k2g"}, "mark": {"type": "line", "color": "#4fc94f", "strokeWidth": 1.1}, "encoding": {"x": {"field": "x", "type": "quantitative"}, "y": {"field": "y", "type": "quantitative"}}},
          {"data": {"name": "k2r"}, "mark": {"type": "line", "color": "#b0302a", "strokeWidth": 1.1}, "encoding": {"x": {"field": "x", "type": "quantitative"}, "y": {"field": "y", "type": "quantitative"}}},
          {"data": {"values": [{}]}, "mark": {"type": "text", "align": "right", "baseline": "middle", "font": "DejaVu Sans", "fontSize": 10.5, "color": "#222"}, "encoding": {"x": {"datum": 100}, "y": {"datum": 54}, "text": {"value": "zgięcie"}}},
          {"data": {"values": [{}]}, "mark": {"type": "text", "align": "right", "baseline": "middle", "font": "DejaVu Sans", "fontSize": 10.5, "color": "#222"}, "encoding": {"x": {"datum": 100}, "y": {"datum": -26}, "text": {"value": "wyprost"}}}
        ]}
      ], "spacing": 53.3, "bounds": "flush"},
      {"data": {"values": []}, "mark": "point", "width": 1, "height": 24},
      {"hconcat": [
        {"width": 148, "height": 127, "title": {"text": ["Rotacja stawu biodrowego", " "]}, "layer": [
          {"data": {"name": "k3n"}, "mark": {"type": "area", "color": "#dfe3e9"}, "encoding": {"x": {"field": "x", "type": "quantitative", "scale": {"domain": [0, 100], "nice": false}, "axis": {"values": [0, 20, 40, 60, 80, 100], "tickCount": 20, "title": "cykl chodu [%]", "labelOverlap": false}}, "y": {"field": "lo2", "type": "quantitative", "scale": {"domain": [-40, 40], "nice": false}, "axis": {"values": [-40, -30, -20, -10, 0, 10, 20, 30, 40], "tickCount": 20, "format": "~f", "title": "kąt [deg]", "labelOverlap": false}}, "y2": {"field": "hi2"}}},
          {"data": {"name": "k3n"}, "mark": {"type": "area", "color": "#b7bfcc"}, "encoding": {"x": {"field": "x", "type": "quantitative"}, "y": {"field": "lo", "type": "quantitative"}, "y2": {"field": "hi"}}},
          {"data": {"values": [{}]}, "mark": {"type": "rule", "color": "#555"}, "encoding": {"y": {"datum": 0}}},
          {"data": {"name": "k3n"}, "mark": {"type": "line", "color": "#5d6879", "strokeWidth": 0.9, "strokeDash": [3, 2]}, "encoding": {"x": {"field": "x", "type": "quantitative"}, "y": {"field": "m", "type": "quantitative"}}},
          {"data": {"values": [{}]}, "mark": {"type": "rule", "color": "#c0392b", "strokeWidth": 1.2}, "encoding": {"x": {"datum": 55}}},
          {"data": {"values": [{}]}, "mark": {"type": "rule", "color": "#45c045", "strokeWidth": 1.6}, "encoding": {"x": {"datum": 61}}},
          {"data": {"name": "k3g"}, "mark": {"type": "line", "color": "#4fc94f", "strokeWidth": 1.1}, "encoding": {"x": {"field": "x", "type": "quantitative"}, "y": {"field": "y", "type": "quantitative"}}},
          {"data": {"name": "k3r"}, "mark": {"type": "line", "color": "#b0302a", "strokeWidth": 1.1}, "encoding": {"x": {"field": "x", "type": "quantitative"}, "y": {"field": "y", "type": "quantitative"}}},
          {"data": {"values": [{}]}, "mark": {"type": "text", "align": "right", "baseline": "middle", "font": "DejaVu Sans", "fontSize": 10.5, "color": "#222"}, "encoding": {"x": {"datum": 100}, "y": {"datum": 34.8}, "text": {"value": "wewnętrzna"}}},
          {"data": {"values": [{}]}, "mark": {"type": "text", "align": "right", "baseline": "middle", "font": "DejaVu Sans", "fontSize": 10.5, "color": "#222"}, "encoding": {"x": {"datum": 100}, "y": {"datum": -35.5}, "text": {"value": "zewnętrzna"}}}
        ]},
        {"width": 144, "height": 127, "title": {"text": ["Zginanie i prostowanie stawu", "kolanowego"]}, "layer": [
          {"data": {"name": "k4n"}, "mark": {"type": "area", "color": "#dfe3e9"}, "encoding": {"x": {"field": "x", "type": "quantitative", "scale": {"domain": [0, 100], "nice": false}, "axis": {"values": [0, 20, 40, 60, 80, 100], "tickCount": 20, "title": "cykl chodu [%]", "labelOverlap": false}}, "y": {"field": "lo2", "type": "quantitative", "scale": {"domain": [-20, 70], "nice": false}, "axis": {"values": [-20, -10, 0, 10, 20, 30, 40, 50, 60, 70], "tickCount": 20, "format": "~f", "title": "kąt [deg]", "labelOverlap": false}}, "y2": {"field": "hi2"}}},
          {"data": {"name": "k4n"}, "mark": {"type": "area", "color": "#b7bfcc"}, "encoding": {"x": {"field": "x", "type": "quantitative"}, "y": {"field": "lo", "type": "quantitative"}, "y2": {"field": "hi"}}},
          {"data": {"values": [{}]}, "mark": {"type": "rule", "color": "#999"}, "encoding": {"y": {"datum": 0}}},
          {"data": {"name": "k4n"}, "mark": {"type": "line", "color": "#5d6879", "strokeWidth": 0.9, "strokeDash": [3, 2]}, "encoding": {"x": {"field": "x", "type": "quantitative"}, "y": {"field": "m", "type": "quantitative"}}},
          {"data": {"values": [{}]}, "mark": {"type": "rule", "color": "#b89297", "strokeWidth": 1.2}, "encoding": {"x": {"datum": 55}}},
          {"data": {"values": [{}]}, "mark": {"type": "rule", "color": "#45c045", "strokeWidth": 1.6}, "encoding": {"x": {"datum": 61}}},
          {"data": {"name": "k4g"}, "mark": {"type": "line", "color": "#4fc94f", "strokeWidth": 1.1}, "encoding": {"x": {"field": "x", "type": "quantitative"}, "y": {"field": "y", "type": "quantitative"}}},
          {"data": {"name": "k4r"}, "mark": {"type": "line", "color": "#b0302a", "strokeWidth": 1.1}, "encoding": {"x": {"field": "x", "type": "quantitative"}, "y": {"field": "y", "type": "quantitative"}}},
          {"data": {"values": [{}]}, "mark": {"type": "text", "align": "right", "baseline": "middle", "font": "DejaVu Sans", "fontSize": 10.5, "color": "#222"}, "encoding": {"x": {"datum": 100}, "y": {"datum": 63.8}, "text": {"value": "zgięcie"}}},
          {"data": {"values": [{}]}, "mark": {"type": "text", "align": "right", "baseline": "middle", "font": "DejaVu Sans", "fontSize": 10.5, "color": "#222"}, "encoding": {"x": {"datum": 100}, "y": {"datum": -16.4}, "text": {"value": "wyprost"}}}
        ]}
      ], "spacing": 41, "bounds": "flush"},
      {"data": {"values": []}, "mark": "point", "width": 1, "height": 17.5},
      {"hconcat": [
        {"width": 141, "height": 125, "title": {"text": ["Zginanie i prostowanie stawu", "skokowego"]}, "layer": [
          {"data": {"name": "k5n"}, "mark": {"type": "area", "color": "#dfe3e9"}, "encoding": {"x": {"field": "x", "type": "quantitative", "scale": {"domain": [0, 100], "nice": false}, "axis": {"values": [0, 20, 40, 60, 80, 100], "tickCount": 20, "title": "cykl chodu [%]", "labelOverlap": false}}, "y": {"field": "lo2", "type": "quantitative", "scale": {"domain": [-30, 30], "nice": false}, "axis": {"values": [-30, -20, -10, 0, 10, 20, 30], "tickCount": 20, "format": "~f", "title": "Kąt [deg]", "labelOverlap": false}}, "y2": {"field": "hi2"}}},
          {"data": {"name": "k5n"}, "mark": {"type": "area", "color": "#b7bfcc"}, "encoding": {"x": {"field": "x", "type": "quantitative"}, "y": {"field": "lo", "type": "quantitative"}, "y2": {"field": "hi"}}},
          {"data": {"values": [{}]}, "mark": {"type": "rule", "color": "#777"}, "encoding": {"y": {"datum": 0}}},
          {"data": {"name": "k5n"}, "mark": {"type": "line", "color": "#5d6879", "strokeWidth": 0.9, "strokeDash": [3, 2]}, "encoding": {"x": {"field": "x", "type": "quantitative"}, "y": {"field": "m", "type": "quantitative"}}},
          {"data": {"values": [{}]}, "mark": {"type": "rule", "color": "#e2a0a8", "strokeWidth": 1.2}, "encoding": {"x": {"datum": 55}}},
          {"data": {"values": [{}]}, "mark": {"type": "rule", "color": "#45c045", "strokeWidth": 1.6}, "encoding": {"x": {"datum": 61}}},
          {"data": {"name": "k5g"}, "mark": {"type": "line", "color": "#4fc94f", "strokeWidth": 1.1}, "encoding": {"x": {"field": "x", "type": "quantitative"}, "y": {"field": "y", "type": "quantitative"}}},
          {"data": {"name": "k5r"}, "mark": {"type": "line", "color": "#b0302a", "strokeWidth": 1.1}, "encoding": {"x": {"field": "x", "type": "quantitative"}, "y": {"field": "y", "type": "quantitative"}}},
          {"data": {"values": [{}]}, "mark": {"type": "text", "align": "right", "baseline": "middle", "font": "DejaVu Sans", "fontSize": 10.5, "color": "#222"}, "encoding": {"x": {"datum": 100}, "y": {"datum": 25.8}, "text": {"value": "grzbietowe"}}},
          {"data": {"values": [{}]}, "mark": {"type": "text", "align": "right", "baseline": "middle", "font": "DejaVu Sans", "fontSize": 10.5, "color": "#222"}, "encoding": {"x": {"datum": 100}, "y": {"datum": -27.5}, "text": {"value": "Plantpodeszwowe"}}}
        ]},
        {"width": 139, "height": 125, "title": {"text": ["Ułożenie stopy w płaszczyźnie", "czołowej"]}, "layer": [
          {"data": {"name": "k6n"}, "mark": {"type": "area", "color": "#dfe3e9"}, "encoding": {"x": {"field": "x", "type": "quantitative", "scale": {"domain": [0, 100], "nice": false}, "axis": {"values": [0, 20, 40, 60, 80, 100], "tickCount": 20, "title": "cykl chodu [%]", "labelOverlap": false}}, "y": {"field": "lo2", "type": "quantitative", "scale": {"domain": [-30, 20], "nice": false}, "axis": {"values": [-30, -20, -10, 0, 10, 20], "tickCount": 20, "format": "~f", "title": "Kąt [deg]", "labelOverlap": false}}, "y2": {"field": "hi2"}}},
          {"data": {"name": "k6n"}, "mark": {"type": "area", "color": "#b7bfcc"}, "encoding": {"x": {"field": "x", "type": "quantitative"}, "y": {"field": "lo", "type": "quantitative"}, "y2": {"field": "hi"}}},
          {"data": {"values": [{}]}, "mark": {"type": "rule", "color": "#444"}, "encoding": {"y": {"datum": 0}}},
          {"data": {"name": "k6n"}, "mark": {"type": "line", "color": "#5d6879", "strokeWidth": 0.9, "strokeDash": [3, 2]}, "encoding": {"x": {"field": "x", "type": "quantitative"}, "y": {"field": "m", "type": "quantitative"}}},
          {"data": {"values": [{}]}, "mark": {"type": "rule", "color": "#e2a0a8", "strokeWidth": 1.2}, "encoding": {"x": {"datum": 56}}},
          {"data": {"values": [{}]}, "mark": {"type": "rule", "color": "#45c045", "strokeWidth": 1.6}, "encoding": {"x": {"datum": 61}}},
          {"data": {"name": "k6g"}, "mark": {"type": "line", "color": "#4fc94f", "strokeWidth": 1.1}, "encoding": {"x": {"field": "x", "type": "quantitative"}, "y": {"field": "y", "type": "quantitative"}}},
          {"data": {"name": "k6r"}, "mark": {"type": "line", "color": "#b0302a", "strokeWidth": 1.1}, "encoding": {"x": {"field": "x", "type": "quantitative"}, "y": {"field": "y", "type": "quantitative"}}},
          {"data": {"values": [{}]}, "mark": {"type": "text", "align": "right", "baseline": "middle", "font": "DejaVu Sans", "fontSize": 10.5, "color": "#222"}, "encoding": {"x": {"datum": 100}, "y": {"datum": 16.5}, "text": {"value": "wewnętrzna"}}},
          {"data": {"values": [{}]}, "mark": {"type": "text", "align": "right", "baseline": "middle", "font": "DejaVu Sans", "fontSize": 10.5, "color": "#222"}, "encoding": {"x": {"datum": 100}, "y": {"datum": -28}, "text": {"value": "zewnętrzna"}}}
        ]}
      ], "spacing": 53.3, "bounds": "flush"},
      {"data": {"values": []}, "mark": "point", "width": 1, "height": 31.6},
      {"width": 367, "height": 85.2,
       "data": {"values": [{"k": "prawa kończyna"}, {"k": "lewa kończyna"}, {"k": "prawa kończyna (norma)"}, {"k": "lewa kończyna (norma)"}]},
       "encoding": {"y": {"field": "k", "type": "nominal", "sort": null, "scale": {"type": "point", "padding": 0.3}, "axis": null}},
       "layer": [
         {"mark": {"type": "rule", "strokeWidth": 1.3}, "encoding": {"x": {"datum": 0.455, "scale": {"domain": [0, 1]}, "axis": null}, "x2": {"datum": 0.545}, "color": {"field": "k", "type": "nominal", "scale": {"domain": ["prawa kończyna", "lewa kończyna", "prawa kończyna (norma)", "lewa kończyna (norma)"], "range": ["#4fc94f", "#b0302a", "#d6dbe3", "#dde1e8"]}, "legend": null}}},
         {"mark": {"type": "text", "align": "left", "baseline": "middle", "font": "DejaVu Sans", "fontSize": 9.5, "color": "#333"}, "encoding": {"x": {"datum": 0.564}, "text": {"field": "k"}}}
       ]},
      {"data": {"values": []}, "mark": "point", "width": 1, "height": 2.9},
      {"width": 314, "height": 36,
       "data": {"values": [{"i": 1, "t": "Rys. 6. Przebieg parametrów kinematycznych pacjenta"}, {"i": 2, "t": "z mózgowym porażeniem dziecięcym"}]},
       "mark": {"type": "text", "baseline": "middle", "font": "Liberation Serif", "fontSize": 14, "color": "#111"},
       "encoding": {"y": {"field": "i", "type": "ordinal", "scale": {"type": "point", "padding": 0.4}, "axis": null}, "text": {"field": "t"}}},
      {"data": {"values": []}, "mark": "point", "width": 1, "height": 17.7},
      {"width": 367, "height": 371.7,
       "data": {"values": [
         {"i": 1, "t": "\u00a0\u00a0\u00a0\u00a0\u00a0\u00a0\u00a0Przebiegi wielkości kinematycznych pacjenta z MPD"},
         {"i": 2, "t": "ukazują zwiększone zgięcie stawu kolanowego występują-"},
         {"i": 3, "t": "ce zwłaszcza w fazie podporowej. Przykurcz kolana jest"},
         {"i": 4, "t": "charakterystycznym objawem mózgowego porażenia"},
         {"i": 5, "t": "dziecięcego. Może być on wynikiem nieprawidłowego"},
         {"i": 6, "t": "działania mięśni tylnych łydki lub uda. Wśród mięśni"},
         {"i": 7, "t": "biorących udział w zginaniu stawu kolanowego znajdują"},
         {"i": 8, "t": "się m.in.: mięsień brzuchaty łydki, dwugłowy uda, pół-"},
         {"i": 9, "t": "błoniasty czy półścięgnisty. Niestety, na podstawie"},
         {"i": 10, "t": "przebiegów kinematyki nie można ocenić, która grupa"},
         {"i": 11, "t": "mięśni pracuje nieprawidłowo. Umożliwiają to natomiast"},
         {"i": 12, "t": "przebiegi sił mięśniowych uzyskane dzięki systemowi"},
         {"i": 13, "t": "Anybody. Na otrzymanych wykresach aktywności sił"},
         {"i": 14, "t": "mięśniowych pacjenta z MPD przede wszystkim zauwa-"},
         {"i": 15, "t": "żyć można znacznie wyższe (kilkakrotnie) wartości sił"},
         {"i": 16, "t": "mięśnia dwugłowego uda (Biceps Femoris Long, Biceps"},
         {"i": 17, "t": "Femoris Bravis) w porównaniu z wielkościami otrzyma-"},
         {"i": 18, "t": "nymi dla pacjenta o chodzie prawidłowym. Mięsień"}
       ]},
       "mark": {"type": "text", "align": "left", "baseline": "middle", "font": "Liberation Serif", "fontSize": 15.5, "color": "#111"},
       "encoding": {"x": {"datum": -0.0627, "scale": {"domain": [0, 1]}, "axis": null}, "y": {"field": "i", "type": "ordinal", "scale": {"type": "point", "padding": 0.5}, "axis": null}, "text": {"field": "t"}}}
    ], "spacing": 0},
    {"vconcat": [
      {"width": 367, "height": 350.2,
       "data": {"values": [
         {"i": 1, "t": "dwugłowy uda pracuje podczas trwania fazy podporowej."},
         {"i": 2, "t": "Po oderwaniu pięty od podłoża jego aktywność jest"},
         {"i": 3, "t": "nieznaczna i może zmniejszyć się do zera [9]. Przebieg"},
         {"i": 4, "t": "aktywności oraz wartości siły otrzymanych dla mięśnia"},
         {"i": 5, "t": "brzuchatego łydki lewej kończyny dolnej są zbliżone do"},
         {"i": 6, "t": "wartości uzyskanych dla pacjenta z grupy kontrolnej."},
         {"i": 7, "t": "Wartość siły tego mięśnia, odpowiedzialnego za zginanie"},
         {"i": 8, "t": "w stawie kolanowym, dla prawej kończyny dolnej jest"},
         {"i": 9, "t": "znacznie niższa w całym cyklu chodu. Na otrzymane"},
         {"i": 10, "t": "wyniki pracy mięśnia brzuchatego łydki może mieć"},
         {"i": 11, "t": "wpływ fakt, iż w celu zmniejszenia spastyczności została"},
         {"i": 12, "t": "do niego aplikowana toksyna botulinowa. Efekty stoso-"},
         {"i": 13, "t": "wania botuliny osiągają swój szczyt w 2.-6. tygodniu po"},
         {"i": 14, "t": "podaniu. W przypadku pacjenta z MPD badanie chodu"},
         {"i": 15, "t": "zostało przeprowadzone 17 dni po iniekcji BTX-a, więc"},
         {"i": 16, "t": "można wnioskować, że toksyna botulinowa spowodowała"},
         {"i": 17, "t": "obniżenie aktywności tego mięśnia."}
       ]},
       "mark": {"type": "text", "align": "left", "baseline": "middle", "font": "Liberation Serif", "fontSize": 15.5, "color": "#111"},
       "encoding": {"x": {"datum": 0, "scale": {"domain": [0, 1]}, "axis": null}, "y": {"field": "i", "type": "ordinal", "scale": {"type": "point", "padding": 0.5}, "axis": null}, "text": {"field": "t"}}},
      {"data": {"values": []}, "mark": "point", "width": 1, "height": 28.8},
      {"hconcat": [
        {"data": {"values": []}, "mark": "point", "width": 1, "height": 1},
        {"width": 141, "height": 106, "view": {"stroke": "#8a8a8a"}, "title": {"text": "Soleus", "font": "Liberation Sans", "fontSize": 8.5, "fontWeight": "normal", "color": "#222", "offset": 1}, "layer": [
          {"data": {"name": "solb"}, "mark": {"type": "area", "color": "#a6d9a6"}, "encoding": {"x": {"field": "x", "type": "quantitative", "scale": {"domain": [0, 100], "nice": false}, "axis": {"values": [0, 20, 40, 60, 80, 100], "tickCount": 20, "title": "cykl chodu [%]", "labelOverlap": false, "domain": false, "labelFontSize": 8, "labelColor": "#222", "titleFont": "Liberation Sans", "titleFontSize": 8, "labelPadding": 2, "titlePadding": 3}}, "y": {"field": "lo", "type": "quantitative", "scale": {"domain": [0, 0.3], "nice": false}, "axis": {"values": [0, 0.05, 0.1, 0.15, 0.2, 0.25, 0.3], "tickCount": 20, "format": "~f", "labelOverlap": false, "title": "Fm/Fmax [N/N]", "domain": false, "labelFontSize": 8, "labelColor": "#222", "titleFont": "Liberation Sans", "titleFontSize": 8, "labelPadding": 3, "titlePadding": 3}}, "y2": {"field": "hi"}}},
          {"data": {"name": "solg"}, "mark": {"type": "line", "color": "#3fcf3f", "strokeWidth": 1.1}, "encoding": {"x": {"field": "x", "type": "quantitative"}, "y": {"field": "y", "type": "quantitative"}}},
          {"data": {"name": "solr"}, "mark": {"type": "line", "color": "#a8281f", "strokeWidth": 1.1}, "encoding": {"x": {"field": "x", "type": "quantitative"}, "y": {"field": "y", "type": "quantitative"}}}
        ]},
        {"width": 141, "height": 106, "view": {"stroke": "#8a8a8a"}, "title": {"text": "Gastrocnemius", "font": "Liberation Sans", "fontSize": 8.5, "fontWeight": "normal", "color": "#222", "offset": 1}, "layer": [
          {"data": {"name": "gasb"}, "mark": {"type": "area", "color": "#a6d9a6"}, "encoding": {"x": {"field": "x", "type": "quantitative", "scale": {"domain": [0, 100], "nice": false}, "axis": {"values": [0, 20, 40, 60, 80, 100], "tickCount": 20, "title": "cykl chodu [%]", "labelOverlap": false, "domain": false, "labelFontSize": 8, "labelColor": "#222", "titleFont": "Liberation Sans", "titleFontSize": 8, "labelPadding": 2, "titlePadding": 3}}, "y": {"field": "lo", "type": "quantitative", "scale": {"domain": [0, 0.6], "nice": false}, "axis": {"values": [0, 0.1, 0.2, 0.3, 0.4, 0.5, 0.6], "tickCount": 20, "format": "~f", "labelOverlap": false, "title": "Fm/Fmax [N/N]", "domain": false, "labelFontSize": 8, "labelColor": "#222", "titleFont": "Liberation Sans", "titleFontSize": 8, "labelPadding": 3, "titlePadding": 3}}, "y2": {"field": "hi"}}},
          {"data": {"name": "gasg"}, "mark": {"type": "line", "color": "#3fcf3f", "strokeWidth": 1.1}, "encoding": {"x": {"field": "x", "type": "quantitative"}, "y": {"field": "y", "type": "quantitative"}}},
          {"data": {"name": "gasr"}, "mark": {"type": "line", "color": "#a8281f", "strokeWidth": 1.1}, "encoding": {"x": {"field": "x", "type": "quantitative"}, "y": {"field": "y", "type": "quantitative"}}},
          {"data": {"values": [{}]}, "mark": {"type": "rect", "fill": "white", "stroke": "#444", "strokeWidth": 0.8}, "encoding": {"x": {"datum": 54}, "x2": {"datum": 108}, "y": {"datum": 0.6}, "y2": {"datum": 0.41}}},
          {"data": {"values": [{}]}, "mark": {"type": "rect", "fill": "#a6d9a6"}, "encoding": {"x": {"datum": 56}, "x2": {"datum": 69}, "y": {"datum": 0.588}, "y2": {"datum": 0.544}}},
          {"data": {"values": [{}]}, "mark": {"type": "rule", "color": "#3fcf3f", "strokeWidth": 1.3}, "encoding": {"x": {"datum": 56}, "x2": {"datum": 69}, "y": {"datum": 0.515}}},
          {"data": {"values": [{}]}, "mark": {"type": "rule", "color": "#a8281f", "strokeWidth": 1}, "encoding": {"x": {"datum": 56}, "x2": {"datum": 69}, "y": {"datum": 0.464}}},
          {"data": {"values": [{}]}, "mark": {"type": "text", "align": "left", "baseline": "middle", "font": "Liberation Sans", "fontSize": 8, "color": "#111"}, "encoding": {"x": {"datum": 71}, "y": {"datum": 0.566}, "text": {"value": "grupa kontrolna"}}},
          {"data": {"values": [{}]}, "mark": {"type": "text", "align": "left", "baseline": "middle", "font": "Liberation Sans", "fontSize": 8, "color": "#111"}, "encoding": {"x": {"datum": 71}, "y": {"datum": 0.515}, "text": {"value": "lewa"}}},
          {"data": {"values": [{}]}, "mark": {"type": "text", "align": "left", "baseline": "middle", "font": "Liberation Sans", "fontSize": 8, "color": "#111"}, "encoding": {"x": {"datum": 71}, "y": {"datum": 0.464}, "text": {"value": "prawa"}}}
        ]}
      ], "spacing": 43, "bounds": "flush"},
      {"data": {"values": []}, "mark": "point", "width": 1, "height": 6.5},
      {"hconcat": [
        {"data": {"values": []}, "mark": "point", "width": 1, "height": 1},
        {"width": 141, "height": 106, "view": {"stroke": "#8a8a8a"}, "title": {"text": "Tibialis Posterior", "font": "Liberation Sans", "fontSize": 8.5, "fontWeight": "normal", "color": "#222", "offset": 1}, "layer": [
          {"data": {"name": "tpb"}, "mark": {"type": "area", "color": "#a6d9a6"}, "encoding": {"x": {"field": "x", "type": "quantitative", "scale": {"domain": [0, 100], "nice": false}, "axis": {"values": [0, 20, 40, 60, 80, 100], "tickCount": 20, "title": "cyld chodu [%]", "labelOverlap": false, "domain": false, "labelFontSize": 8, "labelColor": "#222", "titleFont": "Liberation Sans", "titleFontSize": 8, "labelPadding": 2, "titlePadding": 3}}, "y": {"field": "lo", "type": "quantitative", "scale": {"domain": [0, 2], "nice": false}, "axis": {"values": [0, 0.5, 1, 1.5, 2], "tickCount": 20, "format": "~f", "labelOverlap": false, "title": "Fm/Fmax [N/N]", "domain": false, "labelFontSize": 8, "labelColor": "#222", "titleFont": "Liberation Sans", "titleFontSize": 8, "labelPadding": 3, "titlePadding": 3}}, "y2": {"field": "hi"}}},
          {"data": {"name": "tpg"}, "mark": {"type": "line", "color": "#3fcf3f", "strokeWidth": 1.1}, "encoding": {"x": {"field": "x", "type": "quantitative"}, "y": {"field": "y", "type": "quantitative"}}},
          {"data": {"name": "tpr"}, "mark": {"type": "line", "color": "#a8281f", "strokeWidth": 1.1}, "encoding": {"x": {"field": "x", "type": "quantitative"}, "y": {"field": "y", "type": "quantitative"}}}
        ]},
        {"width": 141, "height": 106, "view": {"stroke": "#8a8a8a"}, "title": {"text": "Tibialis Anterior", "font": "Liberation Sans", "fontSize": 8.5, "fontWeight": "normal", "color": "#222", "offset": 1}, "layer": [
          {"data": {"name": "tab"}, "mark": {"type": "area", "color": "#a6d9a6"}, "encoding": {"x": {"field": "x", "type": "quantitative", "scale": {"domain": [0, 100], "nice": false}, "axis": {"values": [0, 20, 40, 60, 80, 100], "tickCount": 20, "title": "cyld chodu [%]", "labelOverlap": false, "domain": false, "labelFontSize": 8, "labelColor": "#222", "titleFont": "Liberation Sans", "titleFontSize": 8, "labelPadding": 2, "titlePadding": 3}}, "y": {"field": "lo", "type": "quantitative", "scale": {"domain": [0, 2.5], "nice": false}, "axis": {"values": [0, 0.5, 1, 1.5, 2, 2.5], "tickCount": 20, "format": "~f", "labelOverlap": false, "title": "Fm/Fmax [N/N]", "domain": false, "labelFontSize": 8, "labelColor": "#222", "titleFont": "Liberation Sans", "titleFontSize": 8, "labelPadding": 3, "titlePadding": 3}}, "y2": {"field": "hi"}}},
          {"data": {"name": "tag"}, "mark": {"type": "line", "color": "#3fcf3f", "strokeWidth": 1.1}, "encoding": {"x": {"field": "x", "type": "quantitative"}, "y": {"field": "y", "type": "quantitative"}}},
          {"data": {"name": "tar"}, "mark": {"type": "line", "color": "#a8281f", "strokeWidth": 1.1}, "encoding": {"x": {"field": "x", "type": "quantitative"}, "y": {"field": "y", "type": "quantitative"}}}
        ]}
      ], "spacing": 43, "bounds": "flush"},
      {"data": {"values": []}, "mark": "point", "width": 1, "height": 10.5},
      {"width": 390, "height": 20, "data": {"values": [{"t": "Rys. 7. Zmiany sił mięśniowych podczas chodu – grupa 1"}]}, "mark": {"type": "text", "baseline": "middle", "font": "Liberation Serif", "fontSize": 14, "color": "#111"}, "encoding": {"text": {"field": "t"}}},
      {"data": {"values": []}, "mark": "point", "width": 1, "height": 26},
      {"hconcat": [
        {"data": {"values": []}, "mark": "point", "width": 1, "height": 1},
        {"width": 141, "height": 106, "view": {"stroke": "#8a8a8a"}, "title": {"text": "Flexor Ditorum Long", "font": "Liberation Sans", "fontSize": 8.5, "fontWeight": "normal", "color": "#222", "offset": 1}, "layer": [
          {"data": {"name": "fdb"}, "mark": {"type": "area", "color": "#a6d9a6"}, "encoding": {"x": {"field": "x", "type": "quantitative", "scale": {"domain": [0, 100], "nice": false}, "axis": {"values": [0, 20, 40, 60, 80, 100], "tickCount": 20, "title": "cykl chodu [%]", "labelOverlap": false, "domain": false, "labelFontSize": 8, "labelColor": "#222", "titleFont": "Liberation Sans", "titleFontSize": 8, "labelPadding": 2, "titlePadding": 3}}, "y": {"field": "lo", "type": "quantitative", "scale": {"domain": [-0.2, 1.2], "nice": false}, "axis": {"values": [-0.2, 0, 0.2, 0.4, 0.6, 0.8, 1, 1.2], "tickCount": 20, "format": "~f", "labelOverlap": false, "title": "Fm/Fmax [N/N]", "domain": false, "labelFontSize": 8, "labelColor": "#222", "titleFont": "Liberation Sans", "titleFontSize": 8, "labelPadding": 3, "titlePadding": 3}}, "y2": {"field": "hi"}}},
          {"data": {"name": "fdg"}, "mark": {"type": "line", "color": "#3fcf3f", "strokeWidth": 1.1}, "encoding": {"x": {"field": "x", "type": "quantitative"}, "y": {"field": "y", "type": "quantitative"}}},
          {"data": {"name": "fdr"}, "mark": {"type": "line", "color": "#a8281f", "strokeWidth": 1.1}, "encoding": {"x": {"field": "x", "type": "quantitative"}, "y": {"field": "y", "type": "quantitative"}}}
        ]},
        {"width": 141, "height": 106, "view": {"stroke": "#8a8a8a"}, "title": {"text": "Rectus Femoris", "font": "Liberation Sans", "fontSize": 8.5, "fontWeight": "normal", "color": "#222", "offset": 1}, "layer": [
          {"data": {"name": "rfb"}, "mark": {"type": "area", "color": "#a6d9a6"}, "encoding": {"x": {"field": "x", "type": "quantitative", "scale": {"domain": [0, 100], "nice": false}, "axis": {"values": [0, 20, 40, 60, 80, 100], "tickCount": 20, "title": "cykl chodu [%]", "labelOverlap": false, "domain": false, "labelFontSize": 8, "labelColor": "#222", "titleFont": "Liberation Sans", "titleFontSize": 8, "labelPadding": 2, "titlePadding": 3}}, "y": {"field": "lo", "type": "quantitative", "scale": {"domain": [-0.05, 0.2], "nice": false}, "axis": {"values": [-0.05, 0, 0.05, 0.1, 0.15, 0.2], "tickCount": 20, "format": "~f", "labelOverlap": false, "title": "Fm/Fmax [N/N]", "domain": false, "labelFontSize": 8, "labelColor": "#222", "titleFont": "Liberation Sans", "titleFontSize": 8, "labelPadding": 3, "titlePadding": 3}}, "y2": {"field": "hi"}}},
          {"data": {"name": "rfr"}, "mark": {"type": "line", "color": "#a8281f", "strokeWidth": 1.1}, "encoding": {"x": {"field": "x", "type": "quantitative"}, "y": {"field": "y", "type": "quantitative"}}},
          {"data": {"name": "rfg"}, "mark": {"type": "line", "color": "#3fcf3f", "strokeWidth": 1.1}, "encoding": {"x": {"field": "x", "type": "quantitative"}, "y": {"field": "y", "type": "quantitative"}}},
          {"data": {"values": [{}]}, "mark": {"type": "rect", "fill": "white", "stroke": "#444", "strokeWidth": 0.8}, "encoding": {"x": {"datum": 67}, "x2": {"datum": 108}, "y": {"datum": 0.2}, "y2": {"datum": 0.129}}},
          {"data": {"values": [{}]}, "mark": {"type": "rect", "fill": "#a6d9a6"}, "encoding": {"x": {"datum": 69}, "x2": {"datum": 83}, "y": {"datum": 0.1955}, "y2": {"datum": 0.1765}}},
          {"data": {"values": [{}]}, "mark": {"type": "rule", "color": "#3fcf3f", "strokeWidth": 1.3}, "encoding": {"x": {"datum": 69}, "x2": {"datum": 83}, "y": {"datum": 0.167}}},
          {"data": {"values": [{}]}, "mark": {"type": "rule", "color": "#a8281f", "strokeWidth": 1}, "encoding": {"x": {"datum": 69}, "x2": {"datum": 83}, "y": {"datum": 0.146}}},
          {"data": {"values": [{}]}, "mark": {"type": "text", "align": "left", "baseline": "middle", "font": "Liberation Sans", "fontSize": 8, "color": "#111"}, "encoding": {"x": {"datum": 86}, "y": {"datum": 0.186}, "text": {"value": "grupa kon"}}},
          {"data": {"values": [{}]}, "mark": {"type": "text", "align": "left", "baseline": "middle", "font": "Liberation Sans", "fontSize": 8, "color": "#111"}, "encoding": {"x": {"datum": 86}, "y": {"datum": 0.167}, "text": {"value": "prawa"}}},
          {"data": {"values": [{}]}, "mark": {"type": "text", "align": "left", "baseline": "middle", "font": "Liberation Sans", "fontSize": 8, "color": "#111"}, "encoding": {"x": {"datum": 86}, "y": {"datum": 0.146}, "text": {"value": "lewa"}}}
        ]}
      ], "spacing": 43, "bounds": "flush"},
      {"data": {"values": []}, "mark": "point", "width": 1, "height": 8.5},
      {"hconcat": [
        {"data": {"values": []}, "mark": "point", "width": 1, "height": 1},
        {"width": 141, "height": 106, "view": {"stroke": "#8a8a8a"}, "title": {"text": "Biceps Femoris Long", "font": "Liberation Sans", "fontSize": 8.5, "fontWeight": "normal", "color": "#222", "offset": 1}, "layer": [
          {"data": {"name": "blb"}, "mark": {"type": "area", "color": "#a6d9a6"}, "encoding": {"x": {"field": "x", "type": "quantitative", "scale": {"domain": [0, 100], "nice": false}, "axis": {"values": [0, 20, 40, 60, 80, 100], "tickCount": 20, "title": "cykl chodu [%]", "labelOverlap": false, "domain": false, "labelFontSize": 8, "labelColor": "#222", "titleFont": "Liberation Sans", "titleFontSize": 8, "labelPadding": 2, "titlePadding": 3}}, "y": {"field": "lo", "type": "quantitative", "scale": {"domain": [-0.5, 2.5], "nice": false}, "axis": {"values": [-0.5, 0, 0.5, 1, 1.5, 2, 2.5], "tickCount": 20, "format": "~f", "labelOverlap": false, "title": "Fm/Fmax [N/N]", "domain": false, "labelFontSize": 8, "labelColor": "#222", "titleFont": "Liberation Sans", "titleFontSize": 8, "labelPadding": 3, "titlePadding": 3}}, "y2": {"field": "hi"}}},
          {"data": {"name": "blg"}, "mark": {"type": "line", "color": "#3fcf3f", "strokeWidth": 1.1}, "encoding": {"x": {"field": "x", "type": "quantitative"}, "y": {"field": "y", "type": "quantitative"}}},
          {"data": {"name": "blr"}, "mark": {"type": "line", "color": "#a8281f", "strokeWidth": 1.1}, "encoding": {"x": {"field": "x", "type": "quantitative"}, "y": {"field": "y", "type": "quantitative"}}}
        ]},
        {"width": 141, "height": 106, "view": {"stroke": "#8a8a8a"}, "title": {"text": "Biceps Femoris Bravis", "font": "Liberation Sans", "fontSize": 8.5, "fontWeight": "normal", "color": "#222", "offset": 1}, "layer": [
          {"data": {"name": "bbb"}, "mark": {"type": "area", "color": "#a6d9a6"}, "encoding": {"x": {"field": "x", "type": "quantitative", "scale": {"domain": [0, 100], "nice": false}, "axis": {"values": [0, 20, 40, 60, 80, 100], "tickCount": 20, "title": "cykl chodu [%]", "labelOverlap": false, "domain": false, "labelFontSize": 8, "labelColor": "#222", "titleFont": "Liberation Sans", "titleFontSize": 8, "labelPadding": 2, "titlePadding": 3}}, "y": {"field": "lo", "type": "quantitative", "scale": {"domain": [-0.1, 0.4], "nice": false}, "axis": {"values": [-0.1, 0, 0.1, 0.2, 0.3, 0.4], "tickCount": 20, "format": "~f", "labelOverlap": false, "title": "Fm/Fmax [N/N]", "domain": false, "labelFontSize": 8, "labelColor": "#222", "titleFont": "Liberation Sans", "titleFontSize": 8, "labelPadding": 3, "titlePadding": 3}}, "y2": {"field": "hi"}}},
          {"data": {"name": "bbg"}, "mark": {"type": "line", "color": "#3fcf3f", "strokeWidth": 1.1}, "encoding": {"x": {"field": "x", "type": "quantitative"}, "y": {"field": "y", "type": "quantitative"}}},
          {"data": {"name": "bbr"}, "mark": {"type": "line", "color": "#a8281f", "strokeWidth": 1.1}, "encoding": {"x": {"field": "x", "type": "quantitative"}, "y": {"field": "y", "type": "quantitative"}}}
        ]}
      ], "spacing": 43, "bounds": "flush"},
      {"data": {"values": []}, "mark": "point", "width": 1, "height": 13.5},
      {"width": 390, "height": 20, "data": {"values": [{"t": "Rys. 8. Zmiany sił mięśniowych podczas chodu –grupa 2"}]}, "mark": {"type": "text", "baseline": "middle", "font": "Liberation Serif", "fontSize": 14, "color": "#111"}, "encoding": {"text": {"field": "t"}}}
    ], "spacing": 0}
  ], "spacing": 0},
  {"data": {"values": []}, "mark": "point", "width": 1, "height": 25.6},
  {"width": 936, "height": 16, "data": {"values": [{"t": "78"}]}, "mark": {"type": "text", "baseline": "middle", "font": "Liberation Serif", "fontSize": 14, "color": "#111"}, "encoding": {"text": {"field": "t"}}}
]
}
